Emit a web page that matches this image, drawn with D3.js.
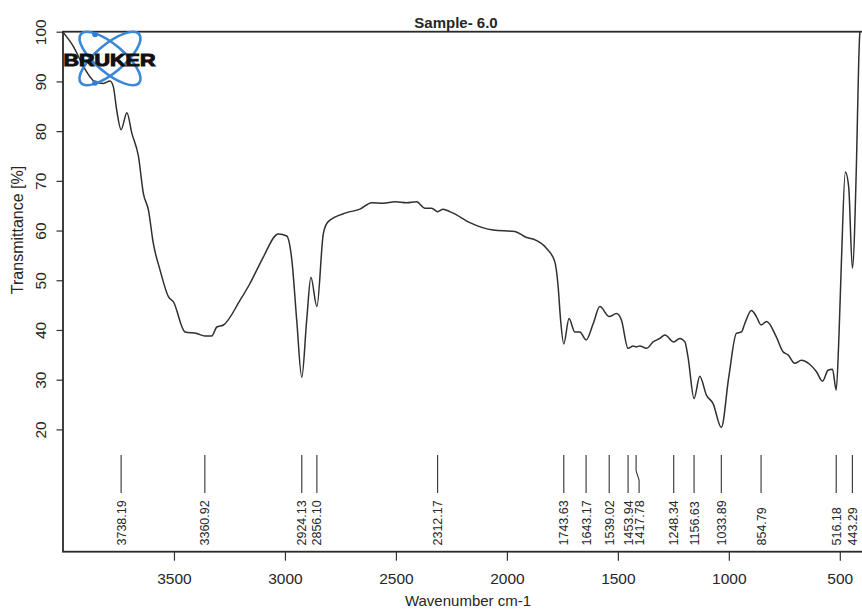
<!DOCTYPE html>
<html><head><meta charset="utf-8">
<script src="https://cdn.jsdelivr.net/npm/d3@7"></script>
<style>body{margin:0;background:#fff}svg{display:block}</style>
</head><body><svg id="c" width="862" height="610"></svg>
<script>
// ---- data ----
const wavenumber = [3998,3953,3908,3878,3855,3818,3788,3773,3758,3738.19,3712,3690,3660,3638,3615,3593,3563,3525,3503,3450,3397,3360.92,3330,3307,3277,3202,3157,3112,3097,3030,2992,2969,2947,2924.13,2902,2883,2856.10,2827,2805,2722,2662,2609,2557,2504,2452,2407,2369,2339,2312.17,2287,2257,2242,2167,2062,1964,1911,1882,1821,1784,1769,1758,1743.63,1720,1694,1671,1643.17,1611,1581,1539.02,1506,1484,1453.94,1431,1417.78,1401,1371,1341,1311,1288,1248.34,1221,1198,1184,1156.63,1131,1101,1071,1033.89,1000,966,943,928,898,876,854.79,830,786,756,733,703,673,636,605,578,553,533,516.18,504,493,475,460,443.29,425,415,410,404];
const transmittance = [99.8,97.0,93.0,90.9,89.9,89.6,90.1,88.9,84.2,80.3,83.7,79.6,74.9,67.5,64.1,57.4,52.1,46.7,45.7,39.6,39.3,38.8,38.8,40.6,41.0,46.0,49.4,53.4,54.7,59.3,58.9,54.1,42.0,30.5,42.0,50.6,44.7,59.4,61.8,63.6,64.3,65.6,65.5,65.8,65.6,65.8,64.5,64.5,63.8,64.3,63.8,63.5,61.6,60.1,59.8,58.6,58.3,56.4,53.7,48.7,42.0,37.2,42.3,39.6,39.6,38.0,41.3,44.7,42.7,43.3,42.0,36.3,36.8,36.6,36.8,36.3,37.6,38.3,39.0,37.6,38.3,37.6,34.6,26.2,30.7,26.9,25.2,20.4,30.6,39.3,39.6,41.3,43.9,42.7,41.0,41.7,38.6,35.6,35.0,33.3,33.9,33.1,31.6,29.7,31.9,32.1,27.9,38.6,53.4,71.8,68.8,52.4,73.5,93.6,99.7,101.5];
const peakLabels = ["3738.19","3360.92","2924.13","2856.10","2312.17","1743.63","1643.17","1539.02","1453.94","1417.78","1248.34","1156.63","1033.89","854.79","516.18","443.29"];
const xTickValues = [3500,3000,2500,2000,1500,1000,500];
const yTickValues = [20,30,40,50,60,70,80,90,100];
const chartTitle = "Sample- 6.0";
const xTitle = "Wavenumber cm-1";
const yTitle = "Transmittance [%]";
const logoText = "BRUKER";

// ---- layout ----
const svg = d3.select("#c");
const L = 63, R = 862, T = 31.7, B = 551.7;
const x = d3.scaleLinear().domain([4000, 400]).range([L, R]);
const y = d3.scaleLinear().domain([-4.6, 100]).range([B, T]);
const font = "'Liberation Sans', Arial, Helvetica, sans-serif";
const ink = "#262626";

svg.append("defs").append("clipPath").attr("id", "clip")
  .append("rect").attr("x", L).attr("y", T).attr("width", R - L).attr("height", B - T);

// spectrum
const pts = wavenumber.map((w, i) => [w, transmittance[i]]);
const line = d3.line().x(d => x(d[0])).y(d => y(d[1])).curve(d3.curveMonotoneX);
svg.append("path").datum(pts).attr("clip-path", "url(#clip)")
  .attr("d", line).attr("fill", "none").attr("stroke", "#303030").attr("stroke-width", 1.5)
  .attr("stroke-linejoin", "round");

// peak markers
const peakX = peakLabels.map(s => x(parseFloat(s)));
const labelX = [];
peakX.forEach((px, i) => {
  let lx = px;
  if (i > 0 && lx - labelX[i - 1] < 11) lx = labelX[i - 1] + 11;
  labelX.push(lx);
});
const pk = svg.append("g");
peakLabels.forEach((s, i) => {
  const px = peakX[i], lx = labelX[i];
  const d = (Math.abs(px - lx) < 0.01)
    ? `M${px},455V493`
    : `M${px},455V471L${lx},480V493`;
  pk.append("path").attr("d", d).attr("fill", "none").attr("stroke", "#333").attr("stroke-width", 1.1);
  pk.append("text").attr("transform", `translate(${lx},545.5) rotate(-90)`)
    .attr("dy", "0.36em").attr("text-anchor", "start")
    .attr("font-family", font).attr("font-size", 12.5).attr("fill", ink).text(s);
});

// x axis
const gx = svg.append("g").attr("transform", `translate(0,${B})`)
  .call(d3.axisBottom(x).tickValues(xTickValues).tickSize(9).tickFormat(d3.format("d")));
gx.select(".domain").remove();
gx.selectAll(".tick line").attr("stroke", "#333").attr("stroke-width", 1.2);
gx.selectAll(".tick text").attr("y", 32.3).attr("dy", null)
  .attr("font-family", font).attr("font-size", 15.5).attr("fill", ink);

// y axis
const gy = svg.append("g").attr("transform", `translate(${L},0)`)
  .call(d3.axisLeft(y).tickValues(yTickValues).tickSize(6.5).tickFormat(d3.format("d")));
gy.select(".domain").remove();
gy.selectAll(".tick line").attr("stroke", "#333").attr("stroke-width", 1.2);
gy.selectAll(".tick text").attr("x", null).attr("dy", null).attr("y", null)
  .attr("text-anchor", "middle").attr("transform", "translate(-17.5,0) rotate(-90)")
  .attr("font-family", font).attr("font-size", 15.5).attr("fill", ink);

// frame
svg.append("rect").attr("x", L).attr("y", T).attr("width", R - L + 2).attr("height", B - T)
  .attr("fill", "none").attr("stroke", "#2a2a2a").attr("stroke-width", 1.8);

// titles
svg.append("text").attr("x", 456).attr("y", 28).attr("text-anchor", "middle")
  .attr("font-family", font).attr("font-size", 15).attr("font-weight", "bold").attr("fill", ink).text(chartTitle);
svg.append("text").attr("x", 468).attr("y", 606).attr("text-anchor", "middle")
  .attr("font-family", font).attr("font-size", 15).attr("fill", ink).text(xTitle);
svg.append("text").attr("transform", "translate(23,230) rotate(-90)").attr("text-anchor", "middle")
  .attr("font-family", font).attr("font-size", 16).attr("fill", ink).text(yTitle);

// Bruker logo
const logo = svg.append("g");
[40, -40].forEach(a => {
  logo.append("ellipse").attr("cx", 0).attr("cy", 0).attr("rx", 38).attr("ry", 14)
    .attr("transform", `translate(110,58.5) rotate(${a})`)
    .attr("fill", "none").attr("stroke", "#3a87d6").attr("stroke-width", 2.6);
});
[[95, 34.5], [95, 83]].forEach(p => logo.append("circle").attr("cx", p[0]).attr("cy", p[1]).attr("r", 2.8).attr("fill", "#2f7fd2"));
logo.append("text").attr("x", 63.5).attr("y", 65.5).attr("textLength", 92).attr("lengthAdjust", "spacingAndGlyphs")
  .attr("font-family", font).attr("font-size", 17).attr("font-weight", "900").attr("fill", "#111")
  .attr("stroke", "#111").attr("stroke-width", 1).text(logoText);
</script></body></html>
